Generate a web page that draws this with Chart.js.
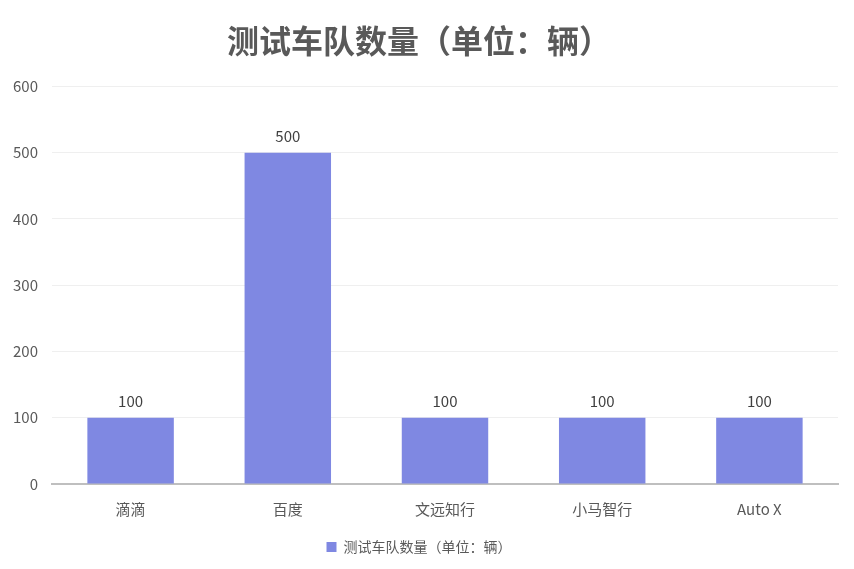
<!DOCTYPE html>
<html>
<head>
<meta charset="utf-8">
<script src="https://cdn.jsdelivr.net/npm/chart.js@4/dist/chart.umd.min.js"></script>
<style>
  html, body { margin: 0; padding: 0; background: #fff; }
  #wrap { width: 854px; height: 569px; position: relative; }
</style>
</head>
<body>
<div id="wrap"><canvas id="chart"></canvas></div>
<script>
const categories = ["滴滴", "百度", "文远知行", "小马智行", "Auto X"];
const fleetSize = [100, 500, 100, 100, 100];
const seriesName = "测试车队数量（单位：辆）";
const titleText = "测试车队数量（单位：辆）";

const font = "'Noto Sans CJK SC', 'Noto Sans', sans-serif";
const barColor = "#7f88e2";

// draws the value above each bar
const valueLabels = {
  id: "valueLabels",
  afterDatasetsDraw(chart) {
    const ctx = chart.ctx;
    const meta = chart.getDatasetMeta(0);
    ctx.save();
    ctx.font = "15px " + font;
    ctx.fillStyle = "#404040";
    ctx.textAlign = "center";
    ctx.textBaseline = "bottom";
    meta.data.forEach((bar, i) => {
      ctx.fillText(fleetSize[i], bar.x, bar.y - 9);
    });
    ctx.restore();
  },
};

new Chart(document.getElementById("chart"), {
  type: "bar",
  data: {
    labels: categories,
    datasets: [
      {
        label: seriesName,
        data: fleetSize,
        backgroundColor: barColor,
        borderWidth: 0,
        categoryPercentage: 0.55,
        barPercentage: 1,
      },
    ],
  },
  options: {
    responsive: true,
    maintainAspectRatio: false,
    animation: false,
    layout: { padding: { left: 0, right: 16, top: 6, bottom: 5 } },
    plugins: {
      title: {
        display: true,
        text: titleText,
        color: "#595959",
        font: { family: font, size: 32, weight: "bold" },
        padding: { top: 16, bottom: 26 },
      },
      legend: {
        position: "bottom",
        labels: {
          color: "#595959",
          font: { family: font, size: 14 },
          boxWidth: 10,
          boxHeight: 10,
          padding: 6,
        },
      },
      tooltip: { enabled: false },
    },
    scales: {
      x: {
        grid: { display: false, drawTicks: false },
        border: { display: true, color: "#bfbfbf", width: 2 },
        ticks: {
          color: "#595959",
          font: { family: font, size: 15 },
          padding: 16,
        },
      },
      y: {
        min: 0,
        max: 600,
        ticks: {
          stepSize: 100,
          color: "#595959",
          font: { family: font, size: 15 },
          padding: 14,
        },
        grid: { color: "#efefef", drawTicks: false },
        border: { display: false },
        afterFit(scale) {
          scale.width = 52;
        },
      },
    },
  },
  plugins: [valueLabels],
});
</script>
</body>
</html>
